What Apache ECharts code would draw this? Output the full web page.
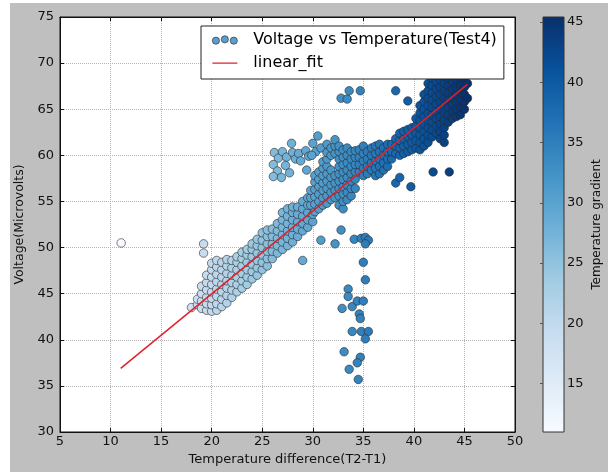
<!DOCTYPE html>
<html><head><meta charset="utf-8">
<script src="https://cdn.jsdelivr.net/npm/echarts@6/dist/echarts.min.js"></script>
<style>html,body{margin:0;padding:0;background:#fff}#c{width:608px;height:472px}</style>
</head><body><div id="c"></div>
<script>
// ---- data ----
const xTicks = [5, 10, 15, 20, 25, 30, 35, 40, 45, 50];
const yTicks = [30, 35, 40, 45, 50, 55, 60, 65, 70, 75];
const colorbarTicks = [15, 20, 25, 30, 35, 40, 45];
const colorbarRange = [11, 45.4];
const bluesColors = ['#f7fbff','#deebf7','#c6dbef','#9ecae1','#6baed6','#4292c6','#2171b5','#08519c','#08306b'];

// columns: [temperature difference, [voltages...]]
const bandColumns = [
  [18.0, [43.5]],
  [18.6, [43.8, 44.4]],
  [19.0, [43.4, 44.2, 45.0, 45.8]],
  [19.5, [43.2, 43.9, 44.6, 45.4, 46.2, 47.0]],
  [20.0, [43.1, 43.8, 44.5, 45.2, 46.0, 46.8, 47.6, 48.3]],
  [20.5, [43.2, 43.9, 44.7, 45.5, 46.3, 47.1, 47.9, 48.6]],
  [21.0, [43.6, 44.4, 45.2, 46.0, 46.8, 47.6, 48.4]],
  [21.5, [44.0, 44.8, 45.6, 46.4, 47.2, 48.0, 48.7]],
  [22.0, [44.6, 45.4, 46.2, 47.0, 47.8, 48.6]],
  [22.5, [45.2, 46.0, 46.8, 47.6, 48.4, 49.0]],
  [23.0, [45.6, 46.4, 47.2, 48.0, 48.8, 49.5]],
  [23.5, [46.0, 46.8, 47.6, 48.4, 49.2, 49.8]],
  [24.0, [46.6, 47.4, 48.2, 49.0, 49.8, 50.4]],
  [24.5, [47.0, 47.8, 48.6, 49.4, 50.2, 50.9]],
  [25.0, [47.6, 48.4, 49.2, 50.0, 50.8, 51.6]],
  [25.5, [48.0, 48.8, 49.6, 50.4, 51.2, 51.9]],
  [26.0, [48.8, 49.6, 50.4, 51.2, 52.0]],
  [26.5, [49.4, 50.2, 51.0, 51.8, 52.6]],
  [27.0, [49.8, 50.6, 51.4, 52.2, 53.0, 53.8]],
  [27.5, [50.2, 51.0, 51.8, 52.6, 53.4, 54.2]],
  [28.0, [50.6, 51.4, 52.2, 53.0, 53.8, 54.4]],
  [28.5, [51.2, 52.0, 52.8, 53.6, 54.4]],
  [29.0, [51.8, 52.6, 53.4, 54.2, 55.0]],
  [29.5, [52.2, 53.0, 53.8, 54.6, 55.4]],
  [30.0, [52.8, 53.6, 54.4, 55.2]]
];
const blobColumns = [
  [29.8, [54.6, 55.4, 56.2]],
  [30.2, [53.9, 54.7, 55.5, 56.3, 57.1, 57.8]],
  [30.6, [54.2, 55.0, 55.8, 56.6, 57.4, 58.2]],
  [31.0, [54.6, 55.4, 56.2, 57.0, 57.8, 58.6, 59.3]],
  [31.4, [54.8, 55.6, 56.4, 57.2, 58.0, 58.8, 59.6, 60.3, 61.2]],
  [31.8, [55.2, 56.0, 56.8, 57.6, 58.4, 60.0, 60.8]],
  [32.2, [55.4, 56.2, 57.0, 57.8, 60.2, 61.0, 61.7]],
  [32.6, [54.6, 55.6, 56.4, 57.2, 58.0, 58.8, 59.6, 60.4, 61.0]],
  [33.0, [54.2, 55.0, 55.8, 56.6, 57.4, 58.2, 59.0, 59.8, 60.6]],
  [33.4, [55.2, 56.0, 56.8, 57.6, 58.4, 59.2, 60.0, 60.8]],
  [33.8, [55.6, 56.4, 57.2, 58.0, 58.8, 59.6, 60.4]],
  [34.2, [56.4, 57.4, 58.2, 59.0, 59.8, 60.5]]
];
const plateauColumns = [
  [34.6, [58.2, 59.0, 59.8, 60.6]],
  [35.0, [57.8, 58.6, 59.4, 60.2, 61.0]],
  [35.4, [58.0, 58.8, 59.6, 60.4]],
  [35.8, [58.4, 59.2, 60.0, 60.8]],
  [36.2, [57.8, 58.6, 59.4, 60.2, 61.0]],
  [36.6, [58.0, 58.8, 59.6, 60.4, 61.2]],
  [37.0, [58.4, 59.2, 60.0, 60.8]],
  [37.4, [58.8, 59.6, 60.4, 61.2]],
  [37.8, [59.6, 60.4, 61.2]],
  [38.2, [60.2, 61.0, 61.8]],
  [38.6, [60.0, 60.8, 61.6, 62.4]],
  [39.0, [60.2, 61.0, 61.8, 62.6]],
  [39.4, [60.4, 61.2, 62.0, 62.8]],
  [39.8, [60.6, 61.4, 62.2, 63.0]]
];
const darkColumns = [
  [40.2, [60.8, 61.6, 62.4, 63.2, 64.0]],
  [40.6, [60.6, 61.4, 62.2, 63.0, 63.8, 64.6, 65.4]],
  [41.0, [61.0, 61.8, 62.6, 63.4, 64.2, 65.0, 65.8, 66.6]],
  [41.4, [61.4, 62.2, 63.0, 63.8, 64.6, 65.4, 66.2, 67.0, 67.8]],
  [41.8, [62.0, 62.8, 63.6, 64.4, 65.2, 66.0, 66.8, 67.6, 68.4]],
  [42.2, [62.4, 63.2, 64.0, 64.8, 65.6, 66.4, 67.2, 68.0, 68.8]],
  [42.6, [61.8, 62.6, 63.4, 64.2, 65.0, 65.8, 66.6, 67.4, 68.2, 69.0]],
  [43.0, [61.4, 62.2, 63.0, 63.8, 64.6, 65.4, 66.2, 67.0, 67.8, 68.6]],
  [43.4, [63.6, 64.4, 65.2, 66.0, 66.8, 67.6, 68.4]],
  [43.8, [64.0, 64.8, 65.6, 66.4, 67.2, 68.0, 68.8]],
  [44.2, [64.2, 65.0, 65.8, 66.6, 67.4, 68.2]],
  [44.6, [64.4, 65.2, 66.0, 66.8, 67.6, 68.4]],
  [45.0, [65.0, 65.8, 66.6, 67.4, 68.2]],
  [45.3, [66.2, 67.8]]
];
const lightClusterPoints = [
  [26.2, 60.3], [26.6, 59.7], [26.1, 59.0], [26.5, 58.3], [26.1, 57.7], [26.9, 57.6],
  [27.0, 60.4], [27.4, 59.8], [27.3, 58.9], [27.7, 58.1], [27.9, 61.3], [28.0, 60.3],
  [28.3, 59.6], [28.6, 60.2], [28.8, 59.4], [29.3, 60.5], [29.6, 59.9], [29.4, 58.4],
  [30.0, 61.3], [30.5, 62.1], [30.3, 60.4], [30.8, 60.8], [29.9, 60.0]
];
const outlierPoints = [
  [11.05, 50.5], [19.2, 50.4], [19.2, 49.4], [29.0, 48.6],
  [32.8, 66.2], [33.4, 66.1], [33.6, 67.0], [34.7, 67.0], [38.2, 67.0], [39.4, 65.9],
  [41.9, 58.2], [43.5, 58.2], [38.2, 57.0], [38.6, 57.6], [39.7, 56.6],
  [30.8, 50.8], [32.2, 50.4], [32.8, 51.9], [34.1, 50.9], [34.8, 51.0], [35.2, 51.1], [35.5, 50.8], [35.2, 50.4],
  [35.0, 48.4], [35.2, 46.5], [33.5, 45.5], [33.5, 44.7], [32.9, 43.4], [33.9, 43.6],
  [34.4, 44.2], [35.0, 44.2], [34.6, 42.8], [34.7, 42.3],
  [33.9, 40.9], [34.8, 40.9], [35.5, 40.9], [35.2, 40.1],
  [33.1, 38.7], [34.7, 38.1], [34.4, 37.5], [33.6, 36.8], [34.5, 35.7]
];
const fitX = [11.0, 45.3];
const fitY = [36.9, 67.7];

// ---- build table ----
function fromColumns(cols) {
  const out = [];
  cols.forEach(c => c[1].forEach(v => out.push([c[0], v])));
  return out;
}
const scatterData = [].concat(
  outlierPoints.slice(0, 4),
  fromColumns(bandColumns),
  lightClusterPoints,
  fromColumns(blobColumns),
  fromColumns(plateauColumns),
  fromColumns(darkColumns),
  outlierPoints.slice(4)
);
const fitData = fitX.map((x, i) => [x, fitY[i]]);

const FONT = 'DejaVu Sans';
const chart = echarts.init(document.getElementById('c'), null, {renderer: 'canvas'});
chart.setOption({
  animation: false,
  backgroundColor: '#bfbfbf',
  textStyle: {fontFamily: FONT},
  graphic: [
    {type: 'rect', left: 0, top: 0, shape: {width: 10, height: 472}, style: {fill: '#ffffff'}, silent: true},
    {type: 'rect', left: 0, top: 0, shape: {width: 608, height: 3}, style: {fill: '#ffffff'}, silent: true}
  ],
  grid: [
    {left: 60, right: 93, top: 17, bottom: 40, show: true, backgroundColor: '#ffffff', borderColor: '#111', borderWidth: 1},
    {left: 543, width: 21, top: 17, bottom: 40, show: true, borderColor: '#333', borderWidth: 1,
     backgroundColor: {type: 'linear', x: 0, y: 1, x2: 0, y2: 0,
       colorStops: bluesColors.map((c, i) => ({offset: i / (bluesColors.length - 1), color: c}))}}
  ],
  legend: {
    selectedMode: false,
    orient: 'vertical',
    left: 201, top: 26,
    backgroundColor: '#ffffff',
    borderColor: '#222', borderWidth: 1,
    padding: [5, 7, 7, 11],
    itemWidth: 25, itemHeight: 9, itemGap: 5,
    textStyle: {fontFamily: FONT, fontSize: 16, color: '#000', lineHeight: 18, padding: [0, 0, 0, 11]},
    data: [
      {name: 'Voltage vs Temperature(Test4)',
       icon: 'path://M1,5.5a4,4 0 1,0 8,0a4,4 0 1,0 -8,0M11,4a4,4 0 1,0 8,0a4,4 0 1,0 -8,0M21,5.5a4,4 0 1,0 8,0a4,4 0 1,0 -8,0',
       itemStyle: {color: '#5a9fd0', borderColor: '#333', borderWidth: 0.7}},
      {name: 'linear_fit',
       icon: 'path://M0,0h0.01v0.01h-0.01zM0,9h0.01v0.01h-0.01zM0,3.9h25v1.4h-25z',
       itemStyle: {color: '#e0202a', borderWidth: 0}}
    ]
  },
  visualMap: {
    show: false, type: 'continuous', seriesIndex: 0, dimension: 0,
    min: colorbarRange[0], max: colorbarRange[1],
    inRange: {color: bluesColors}
  },
  xAxis: [
    {gridIndex: 0, type: 'value', min: xTicks[0], max: xTicks[xTicks.length - 1], interval: 5,
     name: 'Temperature difference(T2-T1)', nameLocation: 'middle', nameGap: 21,
     nameTextStyle: {fontFamily: FONT, fontSize: 13, color: '#111'},
     axisLine: {show: true, onZero: false, lineStyle: {color: '#111'}},
     axisTick: {show: true, inside: true, length: 4, lineStyle: {color: '#111'}},
     axisLabel: {fontFamily: FONT, fontSize: 13, color: '#111', margin: 3},
     splitLine: {show: true, lineStyle: {type: 'dotted', color: '#b4b4b4', width: 1}}},
    {gridIndex: 0, type: 'value', position: 'top', min: 5, max: 50, interval: 5,
     axisLine: {show: true, onZero: false, lineStyle: {color: '#111'}},
     axisTick: {show: true, inside: true, length: 4, lineStyle: {color: '#111'}},
     axisLabel: {show: false}, splitLine: {show: false}},
    {gridIndex: 1, type: 'value', show: false, min: 0, max: 1}
  ],
  yAxis: [
    {gridIndex: 0, type: 'value', min: yTicks[0], max: yTicks[yTicks.length - 1], interval: 5,
     name: 'Voltage(Microvolts)', nameLocation: 'middle', nameGap: 30, nameRotate: 90,
     nameTextStyle: {fontFamily: FONT, fontSize: 12.5, color: '#111'},
     axisLine: {show: true, onZero: false, lineStyle: {color: '#111'}},
     axisTick: {show: true, inside: true, length: 4, lineStyle: {color: '#111'}},
     axisLabel: {fontFamily: FONT, fontSize: 13, color: '#111', margin: 6},
     splitLine: {show: true, lineStyle: {type: 'dotted', color: '#b4b4b4', width: 1}}},
    {gridIndex: 0, type: 'value', position: 'right', min: 30, max: 75, interval: 5,
     axisLine: {show: true, onZero: false, lineStyle: {color: '#111'}},
     axisTick: {show: true, inside: true, length: 4, lineStyle: {color: '#111'}},
     axisLabel: {show: false}, splitLine: {show: false}},
    {gridIndex: 1, type: 'value', position: 'right', min: colorbarRange[0], max: colorbarRange[1],
     name: 'Temperature gradient', nameLocation: 'middle', nameGap: 27, nameRotate: 90,
     nameTextStyle: {fontFamily: FONT, fontSize: 12, color: '#111'},
     axisLine: {show: false},
     axisTick: {show: true, inside: true, length: 3, customValues: colorbarTicks, lineStyle: {color: '#555'}},
     axisLabel: {fontFamily: FONT, fontSize: 13, color: '#111', margin: 3, customValues: colorbarTicks},
     splitLine: {show: false}}
  ],
  series: [
    {name: 'Voltage vs Temperature(Test4)', type: 'scatter', xAxisIndex: 0, yAxisIndex: 0,
     symbolSize: 8.5, data: scatterData, z: 2,
     itemStyle: {borderColor: 'rgba(40,40,40,0.85)', borderWidth: 0.7, opacity: 1}},
    {name: 'linear_fit', type: 'line', xAxisIndex: 0, yAxisIndex: 0, data: fitData,
     symbol: 'none', z: 3, lineStyle: {color: '#e0202a', width: 1.5}, itemStyle: {color: '#e0202a'}}
  ]
});
</script>
</body></html>
